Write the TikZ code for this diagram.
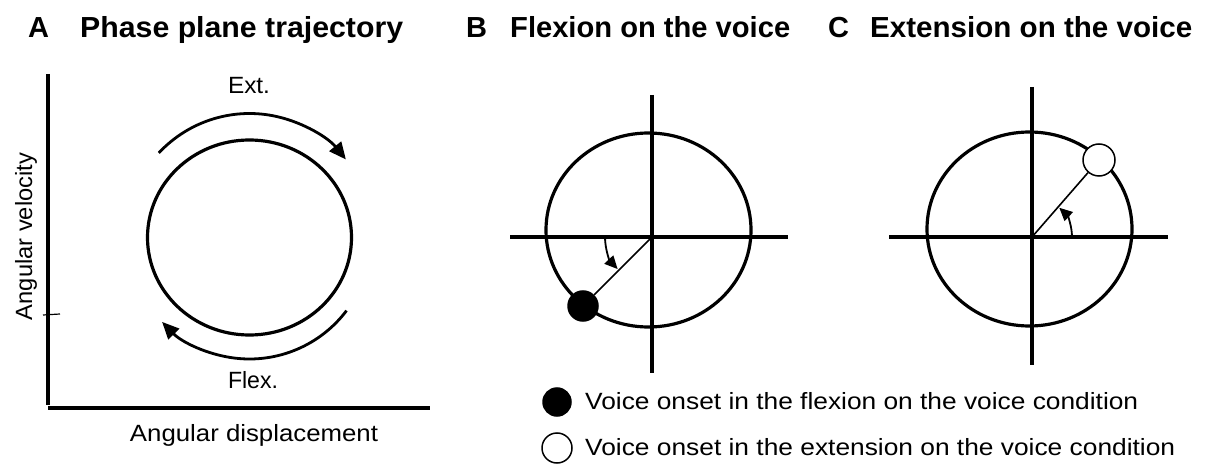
\documentclass[tikz,border=0pt]{standalone}
\usepackage{fontspec}
\setmainfont{Liberation Sans}
\usepackage{graphicx}
\usetikzlibrary{arrows.meta}
\newcommand\fitw[2]{\resizebox{#1pt}{\height}{#2}}
\begin{document}
\begin{tikzpicture}[x=1pt,y=-1pt,
  title/.style={inner sep=0pt,anchor=base west,font=\fontsize{29}{31}\selectfont\bfseries},
  label/.style={inner sep=0pt,font=\fontsize{23.5}{25}\selectfont},
  axis/.style={line width=3.2pt},
  orbit/.style={line width=3.2pt},
  turn/.style={line width=2.8pt,-{Triangle[length=17pt,width=15pt]}},
  small/.style={line width=1.8pt,-{Triangle[length=13pt,width=12pt]}},
  ray/.style={line width=1.6pt},
  dot/.style={circle,draw=black,line width=1.5pt,inner sep=0pt}
]
\useasboundingbox (0,0) rectangle (1210,465);

% titles
\node[title] (tA) at (28,38) {A};
\node[title] (tAt) at (80,38) {\fitw{323}{Phase plane trajectory}};
\node[title] (tB) at (466,38) {B};
\node[title] (tBt) at (510,38) {\fitw{280}{Flexion on the voice}};
\node[title] (tC) at (828,38) {C};
\node[title] (tCt) at (870,38) {\fitw{322}{Extension on the voice}};

% ---------- Panel A ----------
\coordinate (Ay) at (48,74);
\coordinate (Ao) at (48,408);
\coordinate (Ax) at (430,408);
\draw[axis] (Ay) -- (48,405);
\draw[axis] (Ao) -- (Ax);
\draw[line width=1.2pt] (43,315) -- (60,314);
\coordinate (Ac) at (249.5,237.5);
\draw[orbit] (Ac) ellipse[x radius=102, y radius=97.5];
\draw[turn] ([shift={(-137:124)}]Ac) arc[start angle=-137,end angle=-39,radius=124];
\draw[turn] ([shift={(37:121.5)}]Ac) arc[start angle=37,end angle=136,radius=121.5];
\node[label,anchor=base] (ext) at (249,94) {\fitw{42}{Ext.}};
\node[label,anchor=base] (flex) at (253,388) {\fitw{50}{Flex.}};
\node[label,anchor=base] (xlab) at (254,441) {\fitw{248}{Angular displacement}};
\node[label,anchor=base,rotate=90] (ylab) at (32,236.5) {\fitw{167}{Angular velocity}};

% ---------- Panel B ----------
\coordinate (OB) at (652,237);
\draw[orbit] (648.5,230) ellipse[x radius=102.5, y radius=97];
\draw[axis] (652,95) -- (652,373);
\draw[axis] (510,237) -- (788,237);
\node[dot,fill=black,minimum size=30pt] (dB) at (583,306) {};
\draw[ray] (OB) -- (dB);
\draw[small] ([shift={(-180:47)}]OB) arc[start angle=-180,end angle=-223,radius=47];

% ---------- Panel C ----------
\coordinate (OC) at (1032,237);
\draw[orbit] (1029.5,229) ellipse[x radius=102.5, y radius=97];
\draw[axis] (1032,87) -- (1032,365);
\draw[axis] (889,237) -- (1168,237);
\node[dot,fill=white,minimum size=32pt] (dC) at (1099,160) {};
\draw[ray] (OC) -- (dC);
\draw[small] ([shift={(0:40)}]OC) arc[start angle=0,end angle=-47,radius=40];

% ---------- Legend ----------
\node[dot,fill=black,minimum size=28pt] (lg1) at (557,402) {};
\node[label,anchor=base west] (lt1) at (585,409) {\fitw{553}{Voice onset in the flexion on the voice condition}};
\node[dot,fill=white,minimum size=30pt] (lg2) at (557,448) {};
\node[label,anchor=base west] (lt2) at (585,455) {\fitw{590}{Voice onset in the extension on the voice condition}};
\end{tikzpicture}
\end{document}
